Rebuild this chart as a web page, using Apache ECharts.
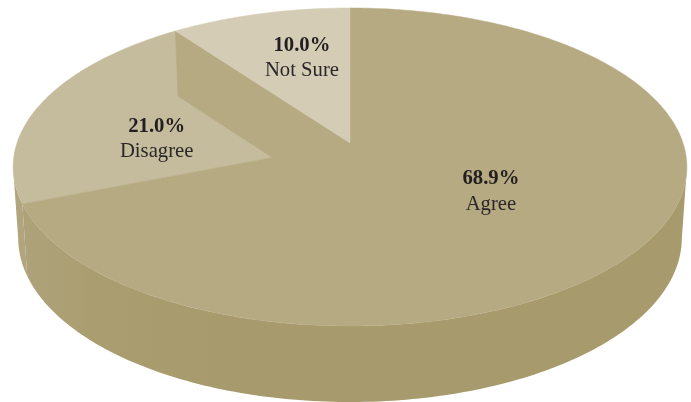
<!DOCTYPE html>
<html><head><meta charset="utf-8">
<style>html,body{margin:0;padding:0;background:#fff}#c{width:691px;height:402px}</style>
<script src="https://cdn.jsdelivr.net/npm/echarts@6/dist/echarts.min.js"></script>
</head><body><div id="c"></div>
<script>
const categories = ['Agree', 'Disagree', 'Not Sure'];
const values = [68.9, 21.0, 10.0];
const percentLabels = ['68.9%', '21.0%', '10.0%'];
const topColors = ['#b6aa82', '#c5bb9d', '#d4ccb5'];
const sideColors = ['#a79a6c', '#b1a57d', '#b6aa82'];
const labelRadius = [0.49, 0.62, 0.5];
const labelShift = [4, 22, -16];

const total = values.reduce((a, b) => a + b, 0);
const starts = values.map((_, i) => values.slice(0, i).reduce((a, b) => a + b, 0) / total * 360);
const ends = values.map((v, i) => starts[i] + v / total * 360);

// Perspective view of a disc
const CX = 350, CY = 143, RX = 333, SY = 155.4, K = -0.151;
const SIDE_FROM = 99, SIDE_TO = 261;
function proj(deg, r) {
  const t = deg * Math.PI / 180, u = r * Math.sin(t), v = -r * Math.cos(t), w = 1 + K * v;
  return [CX + RX * u / w, CY + SY * v / w];
}
function lower(deg, r) {
  const p = proj(deg, r), v = -r * Math.cos(deg * Math.PI / 180);
  return [CX + (p[0] - CX) * 0.985, p[1] + 70 + 6 * v];
}
function arc(fn, a, b) {
  const n = Math.max(2, Math.ceil(Math.abs(b - a))), out = [];
  for (let i = 0; i <= n; i++) out.push(fn(a + (b - a) * i / n, 1));
  return out;
}
function renderItem(params, api) {
  const i = params.dataIndex, a = starts[i], b = ends[i], kids = [];
  const poly = (points, fill, z2) => kids.push({
    type: 'polygon', z2, shape: { points }, silent: true,
    style: { fill, stroke: fill, lineWidth: 0.5 }
  });
  // outer side
  const sa = Math.max(a, SIDE_FROM), sb = Math.min(b, SIDE_TO);
  if (sb > sa) {
    const fill = i === 0 ? new echarts.graphic.LinearGradient(1, 0, 0, 0, [
      { offset: 0, color: sideColors[0] }, { offset: 0.7, color: sideColors[0] },
      { offset: 0.9, color: '#aa9e71' }, { offset: 1, color: '#aea27a' }
    ]) : sideColors[i];
    kids.push({
      type: 'polygon', z2: 1, silent: true,
      shape: { points: arc(proj, sa, sb).concat(arc(lower, sb, sa)) },
      style: { fill }
    });
  }
  // inner wall along the leading edge of the last slice
  if (i === values.length - 1) {
    const rim = proj(a, 1), mid = proj(a, 0);
    const rimLow = lower(a, 1);
    poly([rim, mid, [mid[0], mid[1] + 65], rimLow], topColors[0], 3);
  }
  // top face
  poly([proj(0, 0)].concat(arc(proj, a, b)), topColors[i], i === 1 ? 2 : 4);
  // label
  const m = (a + b) / 2, c = proj(m, labelRadius[i]);
  kids.push({
    type: 'text', z2: 10, silent: true, x: c[0], y: c[1] + labelShift[i],
    style: {
      text: '{p|' + percentLabels[i] + '}\n{n|' + categories[i] + '}',
      align: 'center', verticalAlign: 'middle', fill: '#231f20',
      rich: {
        p: { fontFamily: 'Liberation Serif', fontWeight: 'bold', fontSize: 20.7, lineHeight: 25, fill: '#231f20' },
        n: { fontFamily: 'Liberation Serif', fontSize: 20.7, lineHeight: 25, fill: '#2b2728' }
      }
    }
  });
  return { type: 'group', children: kids };
}
const chart = echarts.init(document.getElementById('c'), null, { renderer: 'canvas' });
chart.setOption({
  animation: false,
  backgroundColor: '#ffffff',
  series: [{
    type: 'custom', coordinateSystem: 'none', silent: true,
    data: categories.map((n, i) => ({ name: n, value: [values[i]] })),
    renderItem
  }]
});
</script></body></html>
